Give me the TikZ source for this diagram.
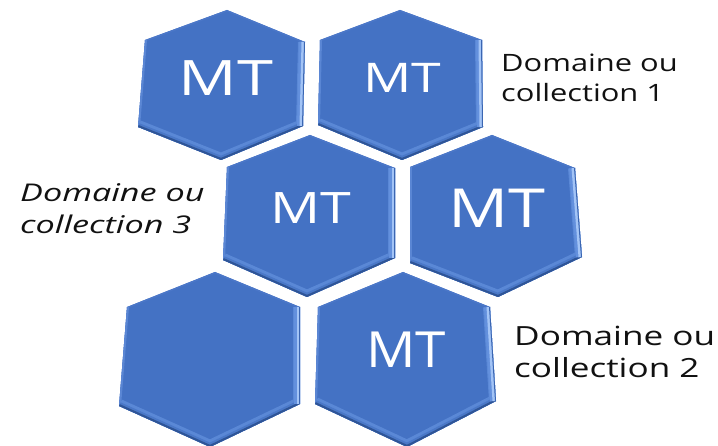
\documentclass[tikz,border=0pt]{standalone}
\usepackage{fontspec}
\usepackage{graphicx}
\setmainfont{Open Sans}
\definecolor{hexface}{HTML}{4472C4}
\definecolor{bevRa}{HTML}{6390DD}
\definecolor{bevRb}{HTML}{A3C4F6}
\definecolor{bevRc}{HTML}{3B66B2}
\definecolor{bevBa}{HTML}{5A88D6}
\definecolor{bevBb}{HTML}{4A78C8}
\definecolor{bevBc}{HTML}{2F5597}
\definecolor{bevL}{HTML}{5A86D4}
\definecolor{bevT}{HTML}{4B77C8}
\definecolor{labelink}{HTML}{111111}

% one bevelled hexagon from its six corners: top, upper right, lower right,
% bottom, lower left, upper left
\newcommand\hexpad[7]{%
  \coordinate (#1t) at (#2);
  \coordinate (#1ur) at (#3);
  \coordinate (#1lr) at (#4);
  \coordinate (#1b) at (#5);
  \coordinate (#1ll) at (#6);
  \coordinate (#1ul) at (#7);
  \fill[hexface] (#1t)--(#1ur)--(#1lr)--(#1b)--(#1ll)--(#1ul)--cycle;
  \begin{scope}
    \clip (#1t)--(#1ur)--(#1lr)--(#1b)--(#1ll)--(#1ul)--cycle;
    \draw[bevT, line width=3bp] (#1ll)--(#1ul)--(#1t)--(#1ur);
    \draw[bevL, line width=4bp] (#1ul)--(#1ll);
    \draw[bevBa, line width=14bp, line join=miter] (#1ur)--(#1lr)--(#1b)--(#1ll);
    \draw[bevBb, line width=8bp, line join=miter] (#1lr)--(#1b)--(#1ll);
    \draw[bevBc, line width=4bp, line join=miter] (#1lr)--(#1b)--(#1ll);
    \draw[bevRa, line width=12bp] (#1ur)--(#1lr);
    \draw[bevRb, line width=7bp] (#1ur)--(#1lr);
    \draw[bevRc, line width=2bp] (#1ur)--(#1lr);
  \end{scope}
}
% white hexagon caption: font size, horizontal stretch
\newcommand\mtcap[2]{\scalebox{#2}[1]{\fontsize{#1}{#1}\selectfont MT}}
% two-line side caption: font size, line distance, stretch, text
\newcommand\sidecap[4]{\scalebox{#3}[1]{\fontsize{#1}{#2}\selectfont
  \begin{tabular}[t]{@{}l@{}}#4\end{tabular}}}

\begin{document}
\begin{tikzpicture}[x=1bp,y=-1bp,
  mtlabel/.style={text=white, inner sep=0pt, anchor=center},
  domlabel/.style={text=labelink, inner sep=0pt, anchor=base west}]
\useasboundingbox (0,0) rectangle (718,446);

% top row
\hexpad{h1}{227,10}{305,42}{303,126}{221,160}{138,127}{145,40}
\hexpad{h2}{400,10}{482,40}{483,127}{402,160}{318,125}{320,40}
% middle row
\hexpad{h3}{310,135}{395,168}{395,258}{307,297}{223,260}{227,167}
\hexpad{h4}{492,135}{575,168}{582,257}{498,297}{410,263}{410,167}
% bottom row
\hexpad{h5}{215,272}{300,307}{300,404}{210,447}{119,406}{127,307}
\hexpad{h6}{403,272}{490,307}{496,401}{407,447}{315,404}{318,307}

% captions on the hexagons
\node[mtlabel] (mt1) at (226,78) {\mtcap{49}{1.33}};
\node[mtlabel] (mt2) at (402,78) {\mtcap{41}{1.31}};
\node[mtlabel] (mt3) at (311,208) {\mtcap{43.5}{1.28}};
\node[mtlabel] (mt4) at (497,208) {\mtcap{54}{1.24}};
\node[mtlabel] (mt6) at (406,350) {\mtcap{50}{1.1}};

% side captions
\node[domlabel] (dom1) at (501,72) {\sidecap{24}{30}{1.29}{Domaine ou\\collection 1}};
\node[domlabel] (dom2) at (514,346) {\sidecap{26.5}{32}{1.33}{Domaine ou\\collection 2}};
\node[domlabel] (dom3) at (20,202) {\sidecap{24.5}{32}{1.4}{\itshape Domaine ou\\\itshape collection 3}};
\end{tikzpicture}
\end{document}
